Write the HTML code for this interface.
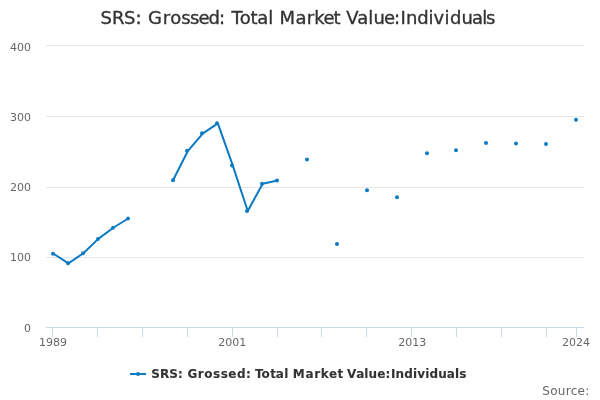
<!DOCTYPE html>
<html><head><meta charset="utf-8"><title>SRS: Grossed: Total Market Value:Individuals</title>
<style>
html,body{margin:0;padding:0;background:#fff;}
svg{display:block;font-family:"DejaVu Sans","Liberation Sans",sans-serif;}
.ax{font-size:11px;fill:#666666;}
.title{font-size:18px;fill:#333333;stroke:#333333;stroke-width:0.35px;}
.leg{font-size:12px;font-weight:bold;fill:#333333;stroke:#333333;stroke-width:0.1px;}
.src{font-size:12px;fill:#666666;}
</style></head><body>
<svg width="600" height="400" viewBox="0 0 600 400">
<rect width="600" height="400" fill="#ffffff"/>
<path d="M 46 45.5 L 584 45.5" stroke="#e6e6e6" stroke-width="1" fill="none"/>
<path d="M 46 116.5 L 584 116.5" stroke="#e6e6e6" stroke-width="1" fill="none"/>
<path d="M 46 187.5 L 584 187.5" stroke="#e6e6e6" stroke-width="1" fill="none"/>
<path d="M 46 257.5 L 584 257.5" stroke="#e6e6e6" stroke-width="1" fill="none"/>

<path d="M 46 327.5 L 584 327.5" stroke="#ccd6eb" stroke-width="1" fill="none"/>
<path d="M 52.5 327 L 52.5 337" stroke="#ccd6eb" stroke-width="1" fill="none"/>
<path d="M 97.5 327 L 97.5 337" stroke="#ccd6eb" stroke-width="1" fill="none"/>
<path d="M 142.5 327 L 142.5 337" stroke="#ccd6eb" stroke-width="1" fill="none"/>
<path d="M 187.5 327 L 187.5 337" stroke="#ccd6eb" stroke-width="1" fill="none"/>
<path d="M 232.5 327 L 232.5 337" stroke="#ccd6eb" stroke-width="1" fill="none"/>
<path d="M 277.5 327 L 277.5 337" stroke="#ccd6eb" stroke-width="1" fill="none"/>
<path d="M 321.5 327 L 321.5 337" stroke="#ccd6eb" stroke-width="1" fill="none"/>
<path d="M 366.5 327 L 366.5 337" stroke="#ccd6eb" stroke-width="1" fill="none"/>
<path d="M 411.5 327 L 411.5 337" stroke="#ccd6eb" stroke-width="1" fill="none"/>
<path d="M 456.5 327 L 456.5 337" stroke="#ccd6eb" stroke-width="1" fill="none"/>
<path d="M 501.5 327 L 501.5 337" stroke="#ccd6eb" stroke-width="1" fill="none"/>
<path d="M 546.5 327 L 546.5 337" stroke="#ccd6eb" stroke-width="1" fill="none"/>
<path d="M 576.5 327 L 576.5 337" stroke="#ccd6eb" stroke-width="1" fill="none"/>

<path d="M 53.47 253.75 L 68.42 263.30 L 83.36 253.25 L 98.31 238.90 L 113.25 227.75 L 128.19 218.50" fill="none" stroke="#0d7bc4" stroke-width="2" stroke-linejoin="round" stroke-linecap="round"/>
<path d="M 173.03 180.30 L 187.97 150.80 L 202.92 133.30 L 217.86 123.30 L 232.81 165.60 L 247.75 211.00 L 262.69 183.70 L 277.64 180.60" fill="none" stroke="#0d7bc4" stroke-width="2" stroke-linejoin="round" stroke-linecap="round"/>

<circle cx="53.00" cy="253.75" r="2" fill="#0d7bc4"/>
<circle cx="68.00" cy="263.30" r="2" fill="#0d7bc4"/>
<circle cx="83.00" cy="253.25" r="2" fill="#0d7bc4"/>
<circle cx="98.00" cy="238.90" r="2" fill="#0d7bc4"/>
<circle cx="113.00" cy="227.75" r="2" fill="#0d7bc4"/>
<circle cx="128.00" cy="218.50" r="2" fill="#0d7bc4"/>
<circle cx="173.00" cy="180.30" r="2" fill="#0d7bc4"/>
<circle cx="187.00" cy="150.80" r="2" fill="#0d7bc4"/>
<circle cx="202.00" cy="133.30" r="2" fill="#0d7bc4"/>
<circle cx="217.00" cy="123.30" r="2" fill="#0d7bc4"/>
<circle cx="232.00" cy="165.60" r="2" fill="#0d7bc4"/>
<circle cx="247.00" cy="211.00" r="2" fill="#0d7bc4"/>
<circle cx="262.00" cy="183.70" r="2" fill="#0d7bc4"/>
<circle cx="277.00" cy="180.60" r="2" fill="#0d7bc4"/>
<circle cx="307.00" cy="159.60" r="2" fill="#0d7bc4"/>
<circle cx="337.00" cy="244.10" r="2" fill="#0d7bc4"/>
<circle cx="367.00" cy="190.30" r="2" fill="#0d7bc4"/>
<circle cx="397.00" cy="197.30" r="2" fill="#0d7bc4"/>
<circle cx="427.00" cy="153.30" r="2" fill="#0d7bc4"/>
<circle cx="456.00" cy="150.30" r="2" fill="#0d7bc4"/>
<circle cx="486.00" cy="143.00" r="2" fill="#0d7bc4"/>
<circle cx="516.00" cy="143.60" r="2" fill="#0d7bc4"/>
<circle cx="546.00" cy="144.10" r="2" fill="#0d7bc4"/>
<circle cx="576.00" cy="119.80" r="2" fill="#0d7bc4"/>

<text x="100.55 112.10 123.94 135.39 141.80 148.00 162.78 170.33 181.17 189.99 198.51 208.53 218.99 224.88 231.50 239.68 250.55 257.37 268.35 273.41 279.45 295.44 306.75 314.33 323.53 333.54 340.48 346.37 357.20 368.35 373.42 383.90 394.04 400.55 406.06 417.26 428.45 433.44 444.45 449.89 461.48 471.90 482.23 485.92" y="24" class="title">SRS: Grossed: Total Market Value:Individuals</text>
<text x="31" y="51" text-anchor="end" class="ax">400</text>
<text x="31" y="121" text-anchor="end" class="ax">300</text>
<text x="31" y="191" text-anchor="end" class="ax">200</text>
<text x="31" y="261" text-anchor="end" class="ax">100</text>
<text x="31" y="332" text-anchor="end" class="ax">0</text>

<text x="53" y="346" text-anchor="middle" class="ax">1989</text>
<text x="232.3" y="346" text-anchor="middle" class="ax">2001</text>
<text x="412.2" y="346" text-anchor="middle" class="ax">2013</text>
<text x="576" y="346" text-anchor="middle" class="ax">2024</text>
<path d="M 130 374 L 146 374" stroke="#0d7bc4" stroke-width="2" fill="none"/>
<circle cx="138" cy="374" r="2" fill="#0d7bc4"/>
<text x="151.23 159.99 169.35 178.12 182.95 187.38 197.76 204.21 212.97 220.66 228.33 237.01 246.11 251.46 254.98 261.61 270.20 275.87 284.22 288.28 292.87 305.40 314.19 320.80 329.05 337.49 343.32 347.08 356.13 364.35 368.58 377.26 385.52 390.88 395.49 404.18 412.93 417.18 425.16 429.41 438.16 446.85 455.10 459.36" y="378" class="leg">SRS: Grossed: Total Market Value:Individuals</text>
<text x="589.5" y="395" text-anchor="end" class="src" style="letter-spacing:0.28px">Source:</text>
</svg>
</body></html>
